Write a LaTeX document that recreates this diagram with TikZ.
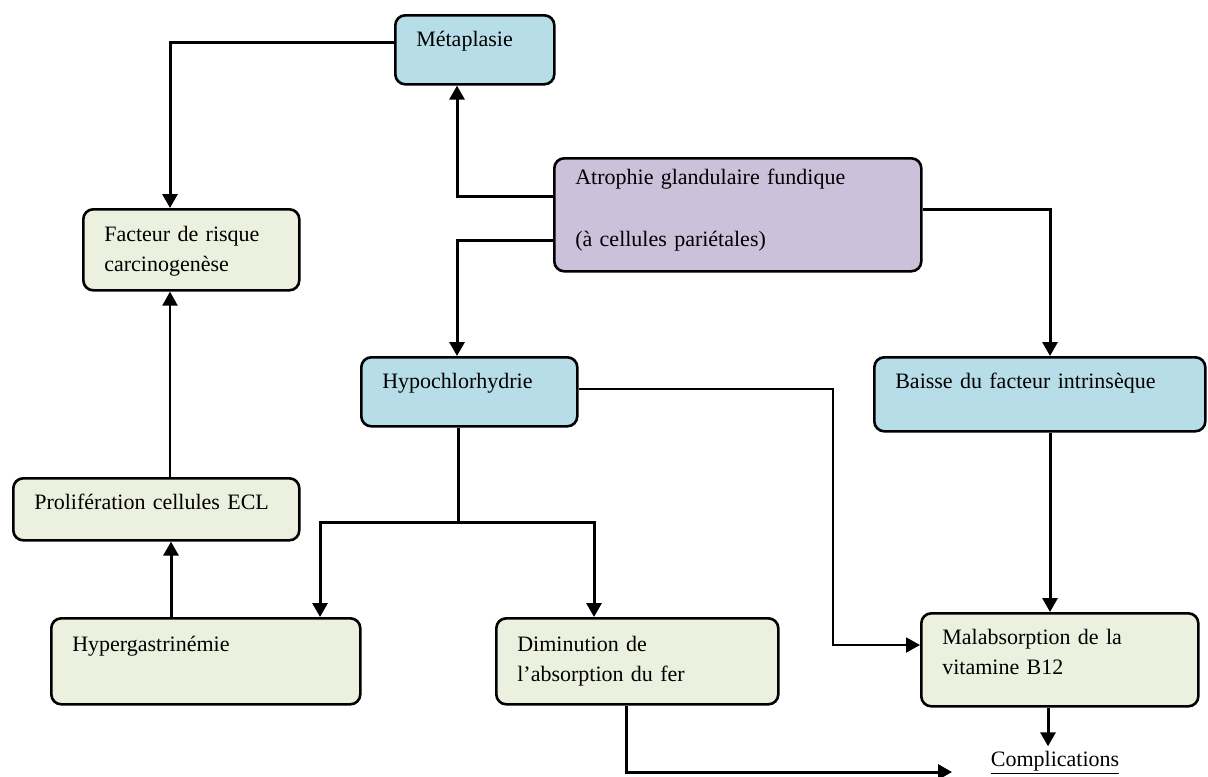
\documentclass[tikz,border=0pt]{standalone}
\usepackage{fontspec}
\setmainfont{Liberation Serif}
\usetikzlibrary{arrows.meta}
\definecolor{paleblue}{HTML}{B7DDE8}
\definecolor{palegreen}{HTML}{EBF1DE}
\definecolor{palemauve}{HTML}{CCC0DA}
\begin{document}
\begin{tikzpicture}[x=0.5pt, y=-0.5pt,
  stage/.style={draw, rounded corners=5pt, line width=1.3pt, anchor=north west,
    inner xsep=10.5pt, inner ysep=0pt, align=left, font=\fontsize{11}{15}\selectfont},
  link/.style={line width=1.5pt, -{Triangle[width=7.5pt,length=7pt]}},
  thin link/.style={line width=1pt, -{Triangle[width=7.5pt,length=7pt]}}]
\useasboundingbox (0,0) rectangle (1208,776);

% boxes
\node[stage, fill=paleblue, text width=58.5pt, text height=15.5pt, text depth=19pt] (meta) at (394,14) {Métaplasie};
\node[stage, fill=palemauve, text width=162.5pt, text height=13pt, text depth=43.5pt] (atro) at (553,157)
  {Atrophie glandulaire fundique\\[16pt](à cellules pariétales)};
\node[stage, fill=palegreen, text width=87pt, text height=16pt, text depth=24.5pt] (risk) at (82,208)
  {Facteur de risque\\carcinogenèse};
\node[stage, fill=paleblue, text width=87pt, text height=15.5pt, text depth=19pt] (hypo) at (360,356) {Hypochlorhydrie};
\node[stage, fill=paleblue, text width=144.5pt, text height=15.5pt, text depth=21.5pt] (baisse) at (873,356) {Baisse du facteur intrinsèque};
\node[stage, fill=palegreen, text width=122pt, text height=15.5pt, text depth=15.5pt] (prolif) at (12,477) {Prolifération cellules ECL};
\node[stage, fill=palegreen, text width=133.5pt, text height=16.5pt, text depth=26.5pt] (gastrin) at (50,617) {Hypergastrinémie};
\node[stage, fill=palegreen, text width=120pt, text height=16.5pt, text depth=26.5pt] (diminu) at (495,617)
  {Diminution de\\l’absorption du fer};
\node[stage, fill=palegreen, text width=117.5pt, text height=15.5pt, text depth=31pt] (malab) at (920,612)
  {Malabsorption de la\\vitamine B12};
\node[anchor=base, inner sep=2pt, font=\fontsize{11}{15}\selectfont] (compl) at (1055,766) {\underline{Complications}};

% connectors
\coordinate (split) at (458,522);
\coordinate (compl in) at (952,772);
\draw[link] (meta.west |- 0,42) -| (170,0 |- risk.north);
\draw[link] (atro.west |- 0,196) -| (457,0 |- meta.south);
\draw[link] (atro.west |- 0,240) -| (457,0 |- hypo.north);
\draw[link] (atro.east |- 0,209) -| (1050,0 |- baisse.north);
\draw[thin link] (hypo.east |- 0,389) -| (833,645) -- (malab.west |- 0,645);
\draw[line width=1.5pt] (458,0 |- hypo.south) -- (split);
\draw[link] (split) -| (320,0 |- gastrin.north);
\draw[link] (split) -| (594,0 |- diminu.north);
\draw[link] (171,0 |- gastrin.north) -- (171,0 |- prolif.south);
\draw[thin link] (170,0 |- prolif.north) -- (170,0 |- risk.south);
\draw[link] (1050,0 |- baisse.south) -- (1050,0 |- malab.north);
\draw[link] (1048,0 |- malab.south) -- (1048,0 |- compl.north);
\draw[link] (626,0 |- diminu.south) |- (compl in);
\end{tikzpicture}
\end{document}
